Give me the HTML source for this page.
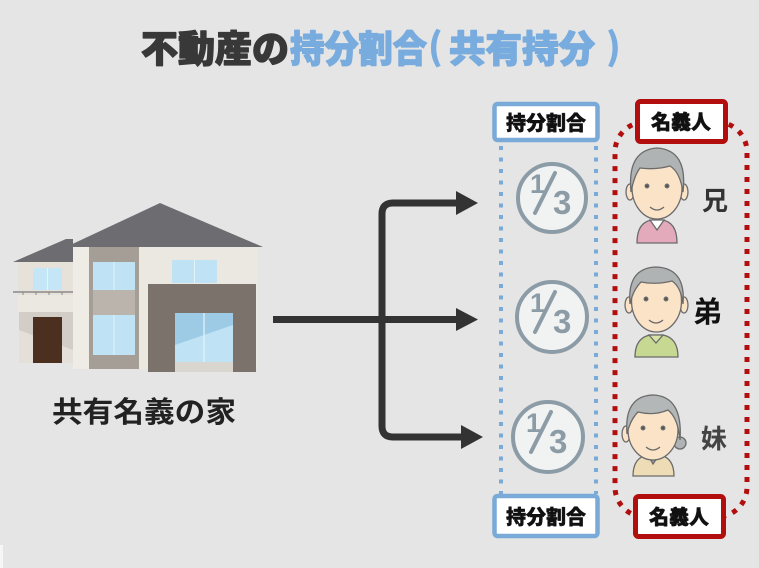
<!DOCTYPE html>
<html><head><meta charset="utf-8"><style>
html,body{margin:0;padding:0;background:#e5e5e5;}
body{width:759px;height:568px;overflow:hidden;}
svg{display:block;}
</style></head><body>
<svg width="759" height="568" viewBox="0 0 759 568" xmlns="http://www.w3.org/2000/svg">
<rect width="759" height="568" fill="#e5e5e5"/>
<rect x="0" y="545" width="3" height="23" fill="#f6f6f6"/>

<!-- Title -->
<g font-family="'Liberation Sans','Noto Sans CJK JP',sans-serif" font-weight="900" font-size="37" stroke-width="1.3" stroke-linejoin="round">
<text x="141" y="62" fill="#383838" stroke="#383838" textLength="148" lengthAdjust="spacingAndGlyphs">不動産の</text>
<text x="290" y="62" fill="#78acde" stroke="#78acde" textLength="137" lengthAdjust="spacingAndGlyphs">持分割合</text>
<text x="428" y="60" fill="#78acde" font-family="'Noto Sans CJK JP',sans-serif">(</text>
<text x="449" y="62" fill="#78acde" stroke="#78acde" textLength="146" lengthAdjust="spacingAndGlyphs">共有持分</text>
<text x="606" y="60" fill="#78acde" font-family="'Noto Sans CJK JP',sans-serif">)</text>
</g>

<!-- House -->
<g>
<polygon points="13,262 66,239 73,239 73,262" fill="#6d6c70"/>
<polygon points="66,247 160,203 263,247" fill="#6d6c70"/>
<rect x="18" y="262" width="55" height="50" fill="#e6e2da"/>
<rect x="33" y="268" width="29" height="22" fill="#c5e6f7"/>
<line x1="47.5" y1="268" x2="47.5" y2="290" stroke="#e8f4fb" stroke-width="1"/>
<line x1="13" y1="292" x2="73" y2="292" stroke="#8a8a8a" stroke-width="1.5"/>
<g stroke="#8a8a8a" stroke-width="1"><line x1="23" y1="292" x2="23" y2="295"/><line x1="36" y1="292" x2="36" y2="295"/><line x1="49" y1="292" x2="49" y2="295"/><line x1="62" y1="292" x2="62" y2="295"/></g>
<rect x="18" y="295" width="55" height="17" fill="#ebe8e2"/>
<rect x="19" y="312" width="54" height="51" fill="#d2cec7"/>
<polygon points="19,330 73,350 73,363 19,363" fill="#e4e0d9"/>
<rect x="33" y="317" width="29" height="46" fill="#4b3020"/>
<rect x="73" y="247" width="16" height="122" fill="#efece6"/>
<rect x="89" y="247" width="50" height="122" fill="#a59e97"/>
<rect x="93" y="262" width="42" height="28" fill="#bfe3f5"/>
<rect x="93" y="290" width="42" height="25" fill="#bab4ad"/>
<rect x="93" y="315" width="42" height="40" fill="#bfe3f5"/>
<line x1="114" y1="262" x2="114" y2="290" stroke="#e3f2fa" stroke-width="1"/>
<line x1="114" y1="315" x2="114" y2="355" stroke="#e3f2fa" stroke-width="1"/>
<rect x="139" y="247" width="119" height="122" fill="#ebe8e2"/>
<rect x="172" y="260" width="45" height="23" fill="#bfe3f5"/>
<line x1="194.5" y1="260" x2="194.5" y2="283" stroke="#e3f2fa" stroke-width="1"/>
<rect x="148" y="284" width="108" height="88" fill="#7b726b"/>
<rect x="175" y="313" width="58" height="59" fill="#d9d5cf"/>
<rect x="175" y="313" width="58" height="49" fill="#bfe3f5"/>
<polygon points="175,313 233,313 233,325 175,345" fill="#9dcbe6"/>
<line x1="204" y1="313" x2="204" y2="362" stroke="#e6f3fa" stroke-width="1.2"/>
</g>
<text x="52" y="422" font-family="'Liberation Sans','Noto Sans CJK JP',sans-serif" font-weight="700" font-size="29" fill="#222" textLength="184" lengthAdjust="spacingAndGlyphs">共有名義の家</text>

<!-- Arrows -->
<g fill="none" stroke="#333" stroke-width="7">
<line x1="273" y1="319.5" x2="460" y2="319.5"/>
<path d="M460,203 H393 Q382,203 382,214 V426 Q382,437 393,437 H465"/>
</g>
<g fill="#333">
<polygon points="456,191 478,203 456,215"/>
<polygon points="456,308 478,319.5 456,331"/>
<polygon points="461,425 483,437 461,449"/>
</g>

<!-- Blue dotted lines -->
<g stroke="#7aaad8" stroke-width="4" stroke-dasharray="4 7.5">
<line x1="501" y1="146" x2="501" y2="494"/>
<line x1="596" y1="146" x2="596" y2="494"/>
</g>

<!-- Red dotted rounded rect -->
<rect x="615" y="122" width="132" height="395" rx="30" ry="30" fill="none" stroke="#b30e0e" stroke-width="5" stroke-dasharray="5 7"/>

<!-- Label boxes -->
<g font-family="'Liberation Sans','Noto Sans CJK JP',sans-serif" font-weight="900" font-size="20" fill="#111" text-anchor="middle" stroke-linejoin="round">
<rect x="494.5" y="104" width="103" height="36" rx="3" fill="#fff" stroke="#7aaad8" stroke-width="4.5"/>
<text x="546" y="130" stroke="#111" stroke-width="0.5">持分割合</text>
<rect x="494.5" y="496" width="103" height="40" rx="3" fill="#fff" stroke="#7aaad8" stroke-width="4.5"/>
<text x="546" y="524" stroke="#111" stroke-width="0.5">持分割合</text>
<rect x="637.5" y="101.5" width="88" height="40" rx="3" fill="#fff" stroke="#b30e0e" stroke-width="5"/>
<text x="681" y="129" stroke="#111" stroke-width="0.5">名義人</text>
<rect x="635.5" y="496.5" width="88" height="40" rx="3" fill="#fff" stroke="#b30e0e" stroke-width="5"/>
<text x="679" y="524" stroke="#111" stroke-width="0.5">名義人</text>
</g>

<!-- 1/3 circles -->
<g>
<circle cx="552" cy="198" r="34" fill="#f1f2f2" stroke="#8c9ca6" stroke-width="4"/>
<g fill="#8c9ca6" font-family="'Liberation Sans',sans-serif" font-weight="700">
<text x="530" y="193" font-size="27">1</text>
<text x="553" y="214" font-size="33">3</text>
</g>
<line x1="535" y1="213" x2="555" y2="173" stroke="#8c9ca6" stroke-width="4" stroke-linecap="round"/>
</g>
<g transform="translate(0,119)">
<circle cx="552" cy="198" r="35" fill="#f1f2f2" stroke="#8c9ca6" stroke-width="4"/>
<g fill="#8c9ca6" font-family="'Liberation Sans',sans-serif" font-weight="700">
<text x="530" y="193" font-size="27">1</text>
<text x="553" y="214" font-size="33">3</text>
</g>
<line x1="535" y1="213" x2="555" y2="173" stroke="#8c9ca6" stroke-width="4" stroke-linecap="round"/>
</g>
<g transform="translate(-4,239)">
<circle cx="552" cy="198" r="35" fill="#f1f2f2" stroke="#8c9ca6" stroke-width="4"/>
<g fill="#8c9ca6" font-family="'Liberation Sans',sans-serif" font-weight="700">
<text x="530" y="193" font-size="27">1</text>
<text x="553" y="214" font-size="33">3</text>
</g>
<line x1="535" y1="213" x2="555" y2="173" stroke="#8c9ca6" stroke-width="4" stroke-linecap="round"/>
</g>

<!-- Person 1 (兄) -->
<g stroke="#6b6b6b" stroke-width="1.3">
<path d="M637,243 Q637,222 652,220 L662,220 Q677,222 677,243 Z" fill="#e3aabb"/>
<path d="M650,220 L657,230 L664,220 Z" fill="#fff"/>
<ellipse cx="630" cy="192" rx="4" ry="8" fill="#fbe3c8"/>
<ellipse cx="684" cy="192" rx="4" ry="8" fill="#fbe3c8"/>
<ellipse cx="657" cy="188" rx="25" ry="31" fill="#fbe3c8"/>
<path d="M631,192 Q627,150 657,148 Q688,150 683,192 Q680,172 670,166 Q656,170 640,168 Q634,176 631,192 Z" fill="#b0b3b3"/>
<circle cx="647" cy="186" r="1.8" fill="#555"/><circle cx="667" cy="186" r="1.8" fill="#555"/>
<path d="M650,207 Q657,213 664,207" fill="none"/>
</g>
<text x="702" y="210" font-family="'Liberation Sans','Noto Sans CJK JP',sans-serif" font-weight="700" font-size="26" fill="#333">兄</text>

<!-- Person 2 (弟) -->
<g stroke="#6b6b6b" stroke-width="1.3">
<path d="M635,357 Q635,338 650,335 L663,335 Q678,338 678,357 Z" fill="#c6d891"/>
<path d="M649,335 L656,343 L663,335 Z" fill="#d6e4a8"/>
<ellipse cx="629" cy="305" rx="4" ry="8" fill="#fbe3c8"/>
<ellipse cx="684" cy="305" rx="4" ry="8" fill="#fbe3c8"/>
<ellipse cx="656.5" cy="301" rx="25" ry="31" fill="#fbe3c8"/>
<path d="M630,304 Q627,268 656,267 Q686,268 683,304 Q681,287 672,281 Q656,285 641,282 Q633,290 630,304 Z" fill="#b0b3b3"/>
<circle cx="646" cy="299" r="1.8" fill="#555"/><circle cx="666" cy="299" r="1.8" fill="#555"/>
<path d="M649,320 Q656,326 663,320" fill="none"/>
</g>
<text x="693" y="322" font-family="'Liberation Sans','Noto Sans CJK JP',sans-serif" font-weight="700" font-size="29" fill="#111">弟</text>

<!-- Person 3 (妹) -->
<g stroke="#6b6b6b" stroke-width="1.3">
<path d="M633,476 Q633,458 647,455 L660,455 Q674,458 674,476 Z" fill="#eedcb6"/>
<path d="M648,455 L653,464 L659,455 Z" fill="#9aa0a6"/>
<circle cx="680" cy="443" r="6" fill="#b0b3b3"/>
<ellipse cx="626" cy="434" rx="4" ry="8" fill="#fbe3c8"/>
<ellipse cx="653" cy="430" rx="25" ry="30" fill="#fbe3c8"/>
<path d="M627,434 Q624,396 653,395 Q683,396 680,440 Q678,418 668,410 Q654,416 638,412 Q630,420 627,434 Z" fill="#b4b7b7"/>
<circle cx="643" cy="428" r="1.8" fill="#555"/><circle cx="663" cy="428" r="1.8" fill="#555"/>
<path d="M646,447 Q653,453 660,447" fill="none"/>
</g>
<text x="701" y="448" font-family="'Liberation Sans','Noto Sans CJK JP',sans-serif" font-weight="700" font-size="26" fill="#444">妹</text>
</svg>
</body></html>
